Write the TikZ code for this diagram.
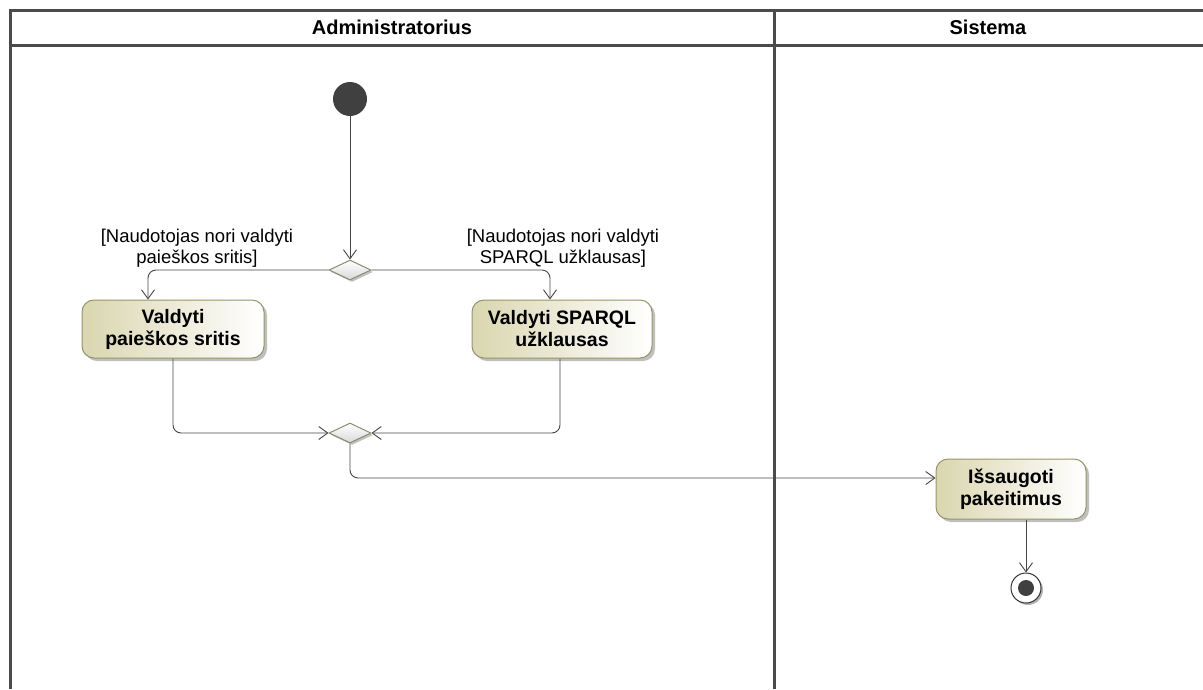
\documentclass[tikz,border=0pt]{standalone}
\usepackage{fontspec}
\setmainfont{Liberation Sans}
\usetikzlibrary{shapes.geometric,arrows.meta,shadows}
\definecolor{lanec}{RGB}{75,75,75}
\definecolor{flowc}{RGB}{70,70,70}
\definecolor{actfill}{RGB}{218,214,176}
\definecolor{actdraw}{RGB}{150,150,100}
\definecolor{decdraw}{RGB}{140,140,115}
\definecolor{nodefill}{RGB}{64,64,64}
\tikzset{
  lane/.style={draw=lanec,line width=3pt},
  flow/.style={draw=flowc,line width=0.9pt,rounded corners=8pt,-{Straight Barb[length=9pt,width=13pt,line width=0.9pt]}},
  action/.style={draw=actdraw,line width=1pt,rounded corners=12pt,left color=actfill,right color=white,
    font=\bfseries\fontsize{19.5}{22}\selectfont,align=center,inner sep=0pt,minimum height=58pt,
    drop shadow={shadow xshift=3pt,shadow yshift=-3pt,fill=black,opacity=0.25}},
  decision/.style={shape=diamond,draw=decdraw,line width=1pt,inner sep=0pt,minimum width=42pt,minimum height=20pt,
    top color=white,bottom color=black!15,
    drop shadow={shadow xshift=2pt,shadow yshift=-2pt,fill=black,opacity=0.25}},
  guard/.style={font=\fontsize{18.5}{21}\selectfont,align=center},
  header/.style={font=\bfseries\fontsize{20}{22}\selectfont}
}
\begin{document}
\begin{tikzpicture}[x=1pt,y=-1pt]
\useasboundingbox (0,0) rectangle (1203,689);
% swimlanes
\draw[lane] (10,689) -- (10,10) -- (1210,10);
\draw[lane] (10,45) -- (1210,45);
\draw[lane] (774,10) -- (774,689);
\node[header] (h1) at (392,27) {Administratorius};
\node[header] (h2) at (988,27) {Sistema};
% nodes
\node[circle,fill=nodefill,minimum size=34pt,inner sep=0pt] (init) at (350,99) {};
\node[decision] (dec) at (350,270) {};
\node[action,minimum width=182pt] (a1) at (173,329) {Valdyti\\paieškos sritis};
\node[action,minimum width=180pt] (a2) at (562,329) {Valdyti SPARQL\\užklausas};
\node[decision] (merge) at (350,433) {};
\node[action,minimum width=150pt,minimum height=60pt] (a3) at (1011,489) {Išsaugoti\\pakeitimus};
\node[circle,draw=black!80,line width=1pt,fill=white,minimum size=30pt,inner sep=0pt,
  drop shadow={shadow xshift=2pt,shadow yshift=-2pt,fill=black,opacity=0.3}] (final) at (1026,588) {};
\node[circle,fill=nodefill,minimum size=16pt,inner sep=0pt] (finalin) at (final) {};
% guards
\node[guard] (g1) at (197,248) {[Naudotojas nori valdyti\\paieškos sritis]};
\node[guard] (g2) at (563,248) {[Naudotojas nori valdyti\\SPARQL užklausas]};
% flows
\draw[flow] (init) -- (dec.north);
\draw[flow] (dec.west) -| ([xshift=-25pt]a1.north);
\draw[flow] (dec.east) -| ([xshift=-12pt]a2.north);
\draw[flow] (a1.south) |- (merge.west);
\draw[flow] ([xshift=-2pt]a2.south) |- (merge.east);
\draw[flow] (merge.south) |- ([yshift=11pt]a3.west);
\draw[flow] ([xshift=15pt]a3.south) -- (final.north);
\end{tikzpicture}
\end{document}
